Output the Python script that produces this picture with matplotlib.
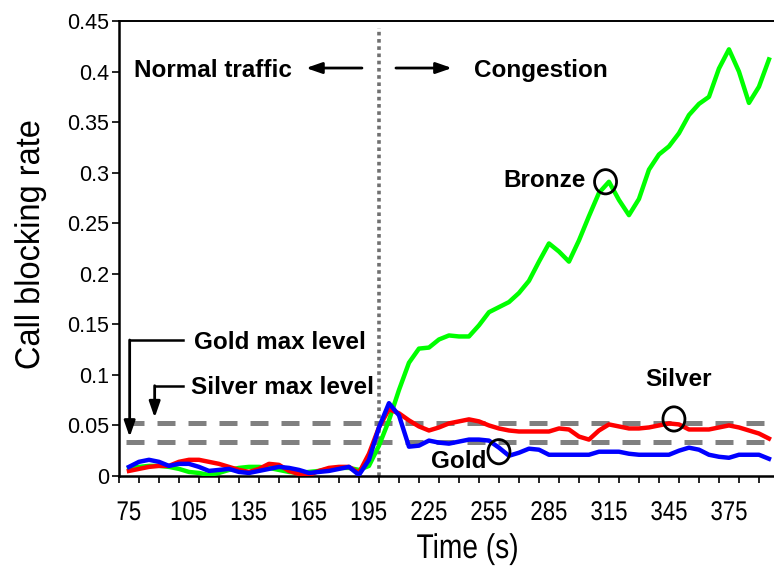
import numpy as np
import matplotlib
matplotlib.use('Agg')
import matplotlib.pyplot as plt
from matplotlib.patches import Ellipse, PathPatch
from matplotlib.textpath import TextPath
from matplotlib.font_manager import FontProperties
from matplotlib.transforms import Affine2D

plt.rcParams['font.family'] = ['Liberation Sans', 'DejaVu Sans']

# time axis (s) and call blocking rate per service class
time_s = np.arange(75, 400, 5)
bronze = [0.008, 0.009, 0.010, 0.010, 0.009, 0.007, 0.004, 0.003, 0.001, 0.003,
          0.006, 0.008, 0.009, 0.009, 0.008, 0.006, 0.004, 0.003, 0.004, 0.005,
          0.007, 0.008, 0.008, 0.006, 0.010, 0.030, 0.055, 0.085, 0.112, 0.126,
          0.127, 0.135, 0.139, 0.138, 0.138, 0.149, 0.162, 0.167, 0.172, 0.181,
          0.193, 0.212, 0.230, 0.222, 0.212, 0.233, 0.257, 0.280, 0.291, 0.273,
          0.258, 0.274, 0.303, 0.318, 0.326, 0.339, 0.357, 0.368, 0.375, 0.403,
          0.422, 0.400, 0.369, 0.385, 0.412]
silver = [0.005, 0.007, 0.009, 0.010, 0.010, 0.014, 0.016, 0.016, 0.014, 0.012,
          0.009, 0.006, 0.004, 0.007, 0.012, 0.011, 0.005, 0.002, 0.001, 0.005,
          0.008, 0.009, 0.009, 0.003, 0.022, 0.048, 0.066, 0.062, 0.055, 0.049,
          0.045, 0.048, 0.052, 0.054, 0.056, 0.054, 0.050, 0.047, 0.045, 0.044,
          0.044, 0.044, 0.044, 0.047, 0.046, 0.039, 0.036, 0.045, 0.051, 0.049,
          0.047, 0.047, 0.048, 0.050, 0.052, 0.051, 0.046, 0.046, 0.046, 0.048,
          0.050, 0.048, 0.045, 0.042, 0.037]
gold = [0.009, 0.014, 0.016, 0.014, 0.010, 0.012, 0.012, 0.009, 0.005, 0.006,
        0.007, 0.004, 0.003, 0.005, 0.007, 0.009, 0.008, 0.006, 0.003, 0.004,
        0.005, 0.007, 0.009, 0.001, 0.016, 0.048, 0.072, 0.060, 0.029, 0.030,
        0.035, 0.033, 0.032, 0.034, 0.036, 0.036, 0.035, 0.028, 0.020, 0.023,
        0.027, 0.026, 0.021, 0.021, 0.021, 0.021, 0.021, 0.024, 0.024, 0.024,
        0.022, 0.021, 0.021, 0.021, 0.021, 0.025, 0.028, 0.026, 0.021, 0.019,
        0.018, 0.021, 0.021, 0.021, 0.017]

gold_max = 0.034
silver_max = 0.052
congestion_start = 200

x_labels = [75, 105, 135, 165, 195, 225, 255, 285, 315, 345, 375]
y_ticks = [0, 0.05, 0.1, 0.15, 0.2, 0.25, 0.3, 0.35, 0.4, 0.45]
y_labels = ['0', '0.05', '0.1', '0.15', '0.2', '0.25', '0.3', '0.35', '0.4', '0.45']

fig = plt.figure(figsize=(7.74, 5.68), dpi=100)
ax = fig.add_axes([0.1537, 0.162, 0.8527, 0.801])


def narrow_text(s, px, py, size, ha='center', rotation=0, squeeze=0.82):
    """Draw s squeezed horizontally (Arial Narrow look), anchored at display px/py on the baseline."""
    path = TextPath((0, 0), s, size=size * fig.dpi / 72.,
                    prop=FontProperties(family='Liberation Sans'))
    ext = path.get_extents()
    dx = {'left': -ext.x0, 'center': -(ext.x0 + ext.x1) / 2., 'right': -ext.x1}[ha]
    tr = Affine2D().translate(dx, 0).scale(squeeze, 1).rotate_deg(rotation).translate(px, py)
    fig.add_artist(PathPatch(path, transform=tr, fc='black', ec='none', lw=0))


# threshold levels
ax.hlines([gold_max, silver_max], 73.5, 400, colors='#808080', lw=3.6,
          linestyles=[(0, (3.6, 2.6))], zorder=1)
ax.vlines(congestion_start, 0, 0.443, colors='#707070', lw=2.6,
          linestyles=[(0, (1, 1))], zorder=1)

ax.plot(time_s, bronze, color='#00ff00', lw=3.2, zorder=3)
ax.plot(time_s, silver, color='#ff0000', lw=3.2, zorder=4)
ax.plot(time_s, gold, color='#0000ff', lw=3.2, zorder=5)

ax.set_xlim(70, 400)
ax.set_ylim(0, 0.45)

ax.set_xticks(x_labels)
ax.set_xticklabels([])
ax.set_xticks(np.arange(70, 401, 10), minor=True)
ax.tick_params(axis='x', which='major', length=0)
ax.tick_params(axis='x', which='minor', direction='out', length=5, width=1.2)
ax.set_yticks(y_ticks)
ax.set_yticklabels(y_labels, fontsize=15.5)
ax.tick_params(axis='y', direction='out', length=5, width=1.2, pad=2)

for side in ['left', 'bottom']:
    ax.spines[side].set_linewidth(1.8)
ax.spines['top'].set_linewidth(1.4)
ax.spines['right'].set_visible(False)

# x tick labels and axis titles in a narrow face
for v in x_labels:
    px = ax.transData.transform((v, 0))[0]
    narrow_text(str(v), px, 48, 19.5)
narrow_text('Time (s)', 467, 10, 24.7)
narrow_text('Call blocking rate', 39, 568 - 245, 24.7, rotation=90, squeeze=0.95)

bold = dict(fontsize=17.5, fontweight='bold', va='baseline', ha='left')
ax.text(77.5, 0.3946, 'Normal traffic', **bold)
ax.text(247.5, 0.395, 'Congestion', **bold)
ax.text(262, 0.286, 'Bronze', **bold)
ax.text(333.3, 0.089, 'Silver', **bold)
ax.text(225.8, 0.0076, 'Gold', **bold)
ax.text(107.5, 0.126, 'Gold max level', **bold)
ax.text(105.8, 0.0811, 'Silver max level', **bold)

arrow = dict(arrowstyle='-|>,head_length=0.95,head_width=0.33', color='black',
             lw=2, shrinkA=0, shrinkB=0, mutation_scale=10)
ax.annotate('', xy=(163.5, 0.4035), xytext=(191.5, 0.4035), arrowprops=arrow)
ax.annotate('', xy=(236.5, 0.4035), xytext=(208.5, 0.4035), arrowprops=arrow)

# elbow pointers to the two max levels
ax.plot([102, 75.35], [0.1345, 0.1345], color='black', lw=1.8)
ax.annotate('', xy=(75.35, 0.0386), xytext=(75.35, 0.1345), arrowprops=arrow)
ax.plot([102, 87.85], [0.0893, 0.0893], color='black', lw=1.8)
ax.annotate('', xy=(87.85, 0.0577), xytext=(87.85, 0.0893), arrowprops=arrow)

# circles marking each class curve
for cx, cy in [(313.3, 0.291), (347.5, 0.0564), (260, 0.024)]:
    ax.add_patch(Ellipse((cx, cy), 11, 0.024, fill=False, ec='black', lw=2,
                         zorder=6))

fig.savefig('out.png', dpi=100)
